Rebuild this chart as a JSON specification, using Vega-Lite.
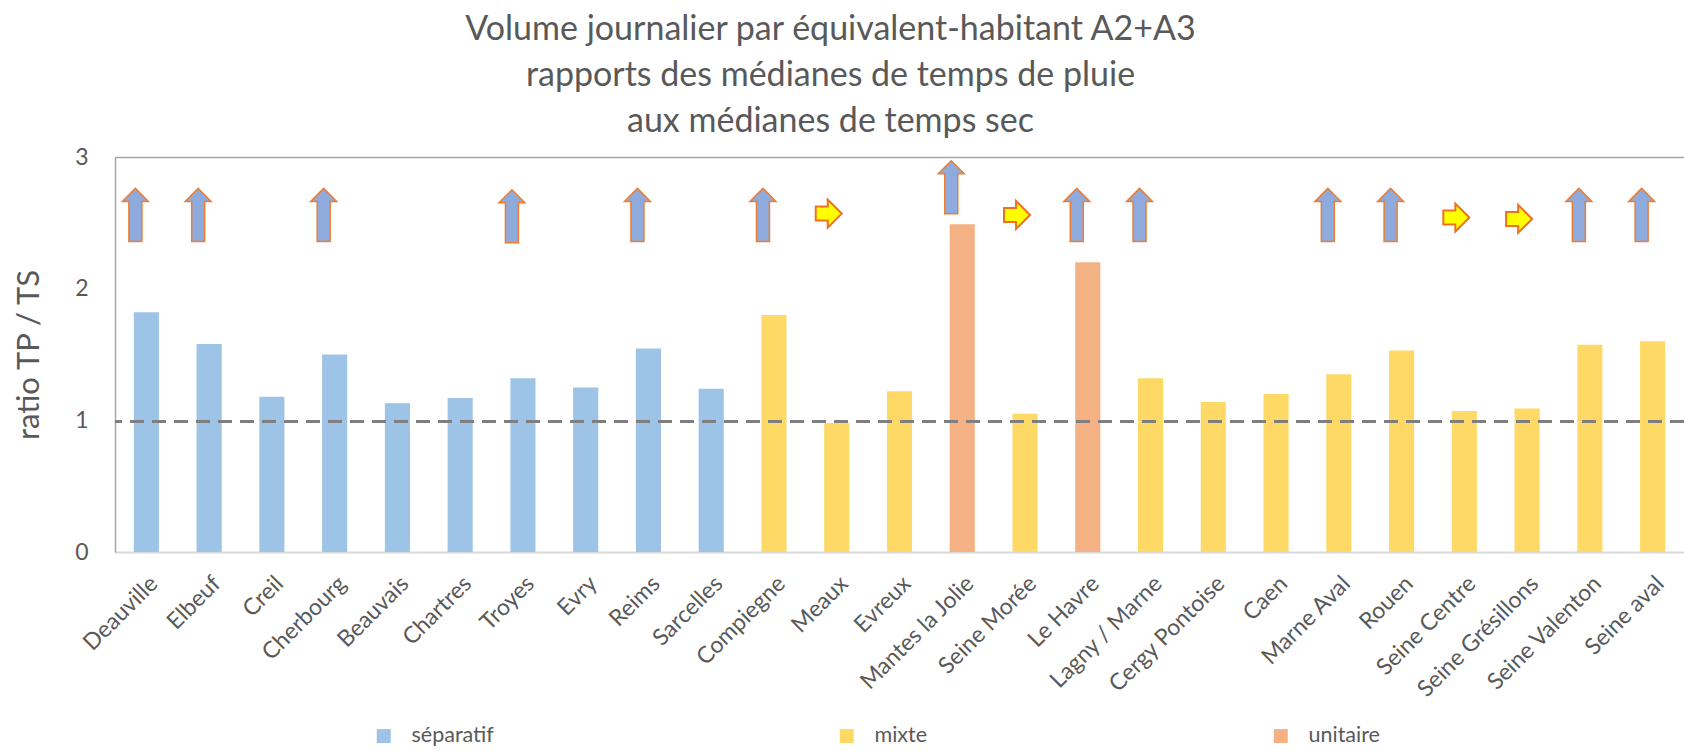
{
  "$schema": "https://vega.github.io/schema/vega-lite/v6.json",
  "autosize": {"type": "none"},
  "padding": {"left": 115, "top": 157, "right": 0, "bottom": 199},
  "width": 1569,
  "height": 395,
  "background": "white",
  "title": {
    "text": ["Volume journalier par équivalent-habitant A2+A3", "rapports des médianes de temps de pluie", "aux médianes de temps sec"],
    "anchor": "middle",
    "frame": "group",
    "dx": -69,
    "offset": 7,
    "font": "Lato",
    "fontSize": 34,
    "fontWeight": "normal",
    "lineHeight": 46,
    "color": "#595959"
  },
  "data": {
    "values": [
      {"station": "Deauville", "type": "séparatif", "ratio": 1.82, "arrow": "up", "level": 2.56},
      {"station": "Elbeuf", "type": "séparatif", "ratio": 1.58, "arrow": "up", "level": 2.56},
      {"station": "Creil", "type": "séparatif", "ratio": 1.18, "arrow": null, "level": null},
      {"station": "Cherbourg", "type": "séparatif", "ratio": 1.5, "arrow": "up", "level": 2.56},
      {"station": "Beauvais", "type": "séparatif", "ratio": 1.13, "arrow": null, "level": null},
      {"station": "Chartres", "type": "séparatif", "ratio": 1.17, "arrow": null, "level": null},
      {"station": "Troyes", "type": "séparatif", "ratio": 1.32, "arrow": "up", "level": 2.55},
      {"station": "Evry", "type": "séparatif", "ratio": 1.25, "arrow": null, "level": null},
      {"station": "Reims", "type": "séparatif", "ratio": 1.545, "arrow": "up", "level": 2.56},
      {"station": "Sarcelles", "type": "séparatif", "ratio": 1.24, "arrow": null, "level": null},
      {"station": "Compiegne", "type": "mixte", "ratio": 1.8, "arrow": "up", "level": 2.56},
      {"station": "Meaux", "type": "mixte", "ratio": 0.98, "arrow": "right", "level": 2.57},
      {"station": "Evreux", "type": "mixte", "ratio": 1.22, "arrow": null, "level": null},
      {"station": "Mantes la Jolie", "type": "unitaire", "ratio": 2.49, "arrow": "up", "level": 2.77},
      {"station": "Seine Morée", "type": "mixte", "ratio": 1.05, "arrow": "right", "level": 2.56},
      {"station": "Le Havre", "type": "unitaire", "ratio": 2.2, "arrow": "up", "level": 2.56},
      {"station": "Lagny / Marne", "type": "mixte", "ratio": 1.32, "arrow": "up", "level": 2.56},
      {"station": "Cergy Pontoise", "type": "mixte", "ratio": 1.14, "arrow": null, "level": null},
      {"station": "Caen", "type": "mixte", "ratio": 1.2, "arrow": null, "level": null},
      {"station": "Marne Aval", "type": "mixte", "ratio": 1.35, "arrow": "up", "level": 2.56},
      {"station": "Rouen", "type": "mixte", "ratio": 1.53, "arrow": "up", "level": 2.56},
      {"station": "Seine Centre", "type": "mixte", "ratio": 1.07, "arrow": "right", "level": 2.54},
      {"station": "Seine Grésillons", "type": "mixte", "ratio": 1.09, "arrow": "right", "level": 2.53},
      {"station": "Seine Valenton", "type": "mixte", "ratio": 1.575, "arrow": "up", "level": 2.56},
      {"station": "Seine aval", "type": "mixte", "ratio": 1.6, "arrow": "up", "level": 2.56}
    ]
  },
  "encoding": {
    "x": {
      "field": "station",
      "type": "nominal",
      "sort": null,
      "scale": {"paddingInner": 0.6, "paddingOuter": 0.3},
      "axis": {
        "title": null,
        "labelAngle": -45,
        "labelFont": "Lato",
        "labelFontSize": 23,
        "labelColor": "#595959",
        "labelPadding": 20,
        "labelLimit": 300,
        "ticks": false,
        "domainColor": "#D9D9D9",
        "domainWidth": 2
      }
    }
  },
  "layer": [
    {
      "mark": {"type": "bar"},
      "encoding": {
        "y": {
          "field": "ratio",
          "type": "quantitative",
          "scale": {"domain": [0, 3], "nice": false},
          "axis": {
            "title": "ratio  TP / TS",
            "titleFont": "Lato",
            "titleFontSize": 31,
            "titleFontWeight": "normal",
            "titleColor": "#595959",
            "titlePadding": 29,
            "values": [0, 1, 2, 3],
            "format": "d",
            "labelFont": "Lato",
            "labelFontSize": 23,
            "labelColor": "#595959",
            "labelPadding": 27,
            "ticks": false,
            "domainColor": "#A6A6A6",
            "domainWidth": 1.5,
            "grid": true,
            "gridColor": {"condition": {"test": "datum.value === 3", "value": "#A6A6A6"}, "value": "transparent"},
            "gridWidth": 1.5
          }
        },
        "color": {
          "field": "type",
          "type": "nominal",
          "scale": {"domain": ["séparatif", "mixte", "unitaire"], "range": ["#9DC3E6", "#FFD966", "#F4B183"]},
          "legend": {
            "title": null,
            "orient": "none",
            "legendX": 258,
            "legendY": 568,
            "direction": "horizontal",
            "columnPadding": 342,
            "symbolType": "square",
            "symbolSize": 196,
            "symbolStrokeWidth": 0,
            "labelFont": "Lato",
            "labelFontSize": 21.5,
            "labelColor": "#595959",
            "labelOffset": 17,
            "padding": 0
          }
        }
      }
    },
    {
      "mark": {"type": "rule", "color": "#7F7F7F", "strokeWidth": 2.5, "strokeDash": [14, 8]},
      "encoding": {"y": {"datum": 0.99}, "x": null}
    },
    {
      "transform": [{"filter": "datum.arrow === 'up'"}],
      "mark": {
        "type": "point",
        "shape": "M-0.245,1L0.245,1L0.245,-0.51L0.49,-0.51L0,-1L-0.49,-0.51L-0.245,-0.51Z",
        "size": 2809,
        "filled": true,
        "fill": "#8FAADC",
        "stroke": "#ED7D31",
        "strokeWidth": 1.5,
        "opacity": 1,
        "xOffset": -11
      },
      "encoding": {"y": {"field": "level", "type": "quantitative"}}
    },
    {
      "transform": [{"filter": "datum.arrow === 'right'"}],
      "mark": {
        "type": "point",
        "shape": "M-0.93,-0.5L-0.07,-0.5L-0.07,-1L0.93,0L-0.07,1L-0.07,0.5L-0.93,0.5Z",
        "size": 784,
        "filled": true,
        "fill": "#FFFF00",
        "stroke": "#F07020",
        "strokeWidth": 2,
        "opacity": 1,
        "xOffset": -8
      },
      "encoding": {"y": {"field": "level", "type": "quantitative"}}
    }
  ]
}
